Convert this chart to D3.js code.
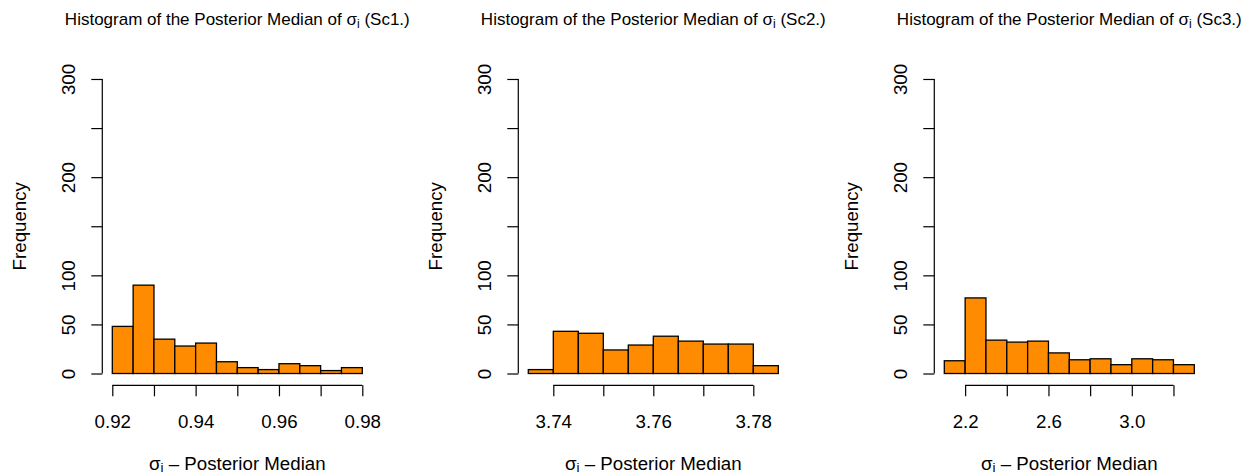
<!DOCTYPE html>
<html>
<head>
<meta charset="utf-8">
<script src="https://cdn.jsdelivr.net/npm/d3@7"></script>
<style>
  body { margin: 0; background: #fff; }
  svg { display: block; }
  text { font-family: "Liberation Sans", Arial, Helvetica, sans-serif; fill: #000; }
</style>
</head>
<body>
<svg id="chart" width="1247" height="476"></svg>
<script>
// Scenario names used in the panel titles
const scenarios = ["Sc1.", "Sc2.", "Sc3."];

// Histogram bin edges and counts per scenario
const sc1Breaks = [0.920, 0.925, 0.930, 0.935, 0.940, 0.945, 0.950, 0.955, 0.960, 0.965, 0.970, 0.975, 0.980];
const sc1Counts = [48, 90, 35, 28, 31, 12, 6, 4, 10, 8, 3, 6];
const sc2Breaks = [3.735, 3.740, 3.745, 3.750, 3.755, 3.760, 3.765, 3.770, 3.775, 3.780, 3.785];
const sc2Counts = [4, 43, 41, 24, 29, 38, 33, 30, 30, 8];
const sc3Breaks = [2.1, 2.2, 2.3, 2.4, 2.5, 2.6, 2.7, 2.8, 2.9, 3.0, 3.1, 3.2, 3.3];
const sc3Counts = [13, 77, 34, 32, 33, 21, 14, 15, 9, 15, 14, 9];

// Axis ticks (empty label = tick without text)
const sc1Ticks = [0.92, 0.93, 0.94, 0.95, 0.96, 0.97, 0.98];
const sc1TickLabels = ["0.92", "", "0.94", "", "0.96", "", "0.98"];
const sc2Ticks = [3.74, 3.75, 3.76, 3.77, 3.78];
const sc2TickLabels = ["3.74", "", "3.76", "", "3.78"];
const sc3Ticks = [2.2, 2.4, 2.6, 2.8, 3.0, 3.2];
const sc3TickLabels = ["2.2", "", "2.6", "", "3.0", ""];
const freqTicks = [0, 50, 100, 150, 200, 250, 300];
const freqTickLabels = ["0", "50", "100", "", "200", "", "300"];
const freqLimits = [0, 300];

const panels = [
  { name: scenarios[0], breaks: sc1Breaks, counts: sc1Counts, ticks: sc1Ticks, labels: sc1TickLabels },
  { name: scenarios[1], breaks: sc2Breaks, counts: sc2Counts, ticks: sc2Ticks, labels: sc2TickLabels },
  { name: scenarios[2], breaks: sc3Breaks, counts: sc3Counts, ticks: sc3Ticks, labels: sc3TickLabels }
];

// Layout
const plotLefts = [102.3, 518.3, 934.3];
const plotWidth = 270;
const plotTop = 67.2, plotBottom = 385.3;
const tickLen = 11;
const labelSize = 18.7, titleSize = 17;

const svg = d3.select("#chart");

// Shared frequency scale, padded 4% like R's default axis range
const fPad = (freqLimits[1] - freqLimits[0]) * 0.04;
const y = d3.scaleLinear()
  .domain([freqLimits[0] - fPad, freqLimits[1] + fPad])
  .range([plotBottom, plotTop]);

// Writes "σ" followed by a subscript i into a text element
function sigmaSub(textSel, before, after, size, shift) {
  textSel.append("tspan").text(before + "σ");
  textSel.append("tspan").text("i")
    .attr("font-size", size * 0.72)
    .attr("dy", shift);
  textSel.append("tspan").text(after)
    .attr("dy", -shift);
}

panels.forEach((p, i) => {
  const left = plotLefts[i];
  const lo = p.breaks[0], hi = p.breaks[p.breaks.length - 1];
  const pad = (hi - lo) * 0.04;
  const x = d3.scaleLinear().domain([lo - pad, hi + pad]).range([left, left + plotWidth]);

  const g = svg.append("g");

  // Bars
  const bins = p.counts.map((c, k) => ({ x0: p.breaks[k], x1: p.breaks[k + 1], n: c }));
  g.selectAll("rect.bar").data(bins).join("rect")
    .attr("class", "bar")
    .attr("x", d => x(d.x0))
    .attr("y", d => y(d.n))
    .attr("width", d => x(d.x1) - x(d.x0))
    .attr("height", d => y(0) - y(d.n))
    .attr("fill", "#ff8c00")
    .attr("stroke", "#000")
    .attr("stroke-width", 1.3);

  // X axis: line from first to last tick, R style
  const xAxis = g.append("g")
    .attr("transform", `translate(0,${plotBottom})`)
    .call(d3.axisBottom(x).tickValues(p.ticks).tickSize(tickLen).tickSizeOuter(0)
      .tickFormat((d, k) => p.labels[k]));
  xAxis.select(".domain").remove();
  xAxis.append("line")
    .attr("x1", x(p.ticks[0])).attr("x2", x(p.ticks[p.ticks.length - 1]))
    .attr("stroke", "#000").attr("stroke-width", 1.2);
  xAxis.selectAll(".tick line").attr("stroke", "#000").attr("stroke-width", 1.2);
  xAxis.selectAll(".tick text")
    .attr("y", 42.5).attr("dy", null)
    .attr("font-size", labelSize)
    .attr("fill", "#000");
  xAxis.attr("font-size", null).attr("font-family", null);

  // Y axis with rotated labels
  const yAxis = g.append("g")
    .attr("transform", `translate(${left},0)`)
    .call(d3.axisLeft(y).tickValues(freqTicks).tickSize(tickLen).tickSizeOuter(0)
      .tickFormat((d, k) => freqTickLabels[k]));
  yAxis.select(".domain")
    .attr("d", `M0,${y(freqTicks[0])}V${y(freqTicks[freqTicks.length - 1])}`)
    .attr("stroke", "#000").attr("stroke-width", 1.2);
  yAxis.selectAll(".tick line").attr("stroke", "#000").attr("stroke-width", 1.2);
  yAxis.selectAll(".tick text")
    .attr("transform", "rotate(-90)")
    .attr("x", 0).attr("y", -27).attr("dy", null)
    .attr("text-anchor", "middle")
    .attr("font-size", labelSize)
    .attr("fill", "#000");
  yAxis.attr("font-size", null).attr("font-family", null);

  const cx = left + plotWidth / 2;

  // Y axis title
  g.append("text")
    .attr("transform", `translate(${left - 76},${(plotTop + plotBottom) / 2}) rotate(-90)`)
    .attr("text-anchor", "middle")
    .attr("font-size", labelSize)
    .text("Frequency");

  // X axis title
  const xt = g.append("text")
    .attr("x", cx).attr("y", 469.5)
    .attr("text-anchor", "middle")
    .attr("font-size", labelSize);
  sigmaSub(xt, "", " – Posterior Median", labelSize, 2.8);

  // Panel title
  const tt = g.append("text")
    .attr("x", cx).attr("y", 25)
    .attr("text-anchor", "middle")
    .attr("font-size", titleSize);
  sigmaSub(tt, "Histogram of the Posterior Median of ", ` (${p.name})`, titleSize, 3.4);
});
</script>
</body>
</html>
